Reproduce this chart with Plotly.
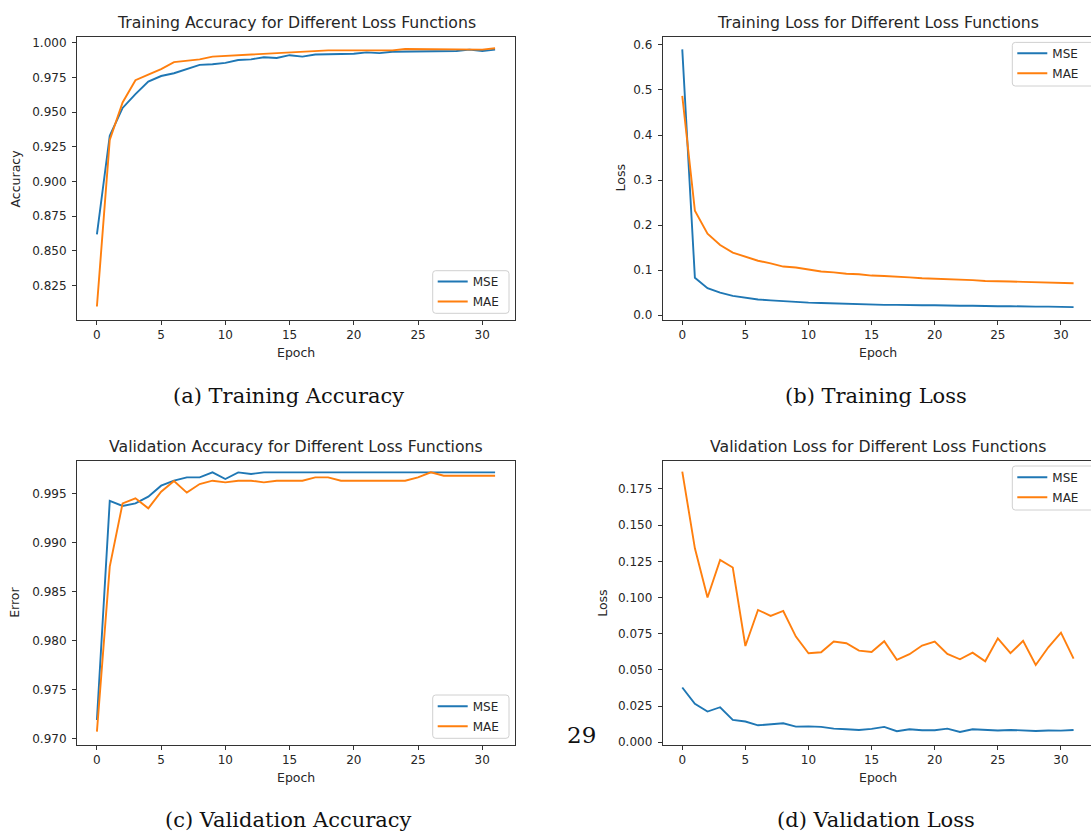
import plotly.graph_objects as go

epochs = list(range(32))

train_acc_mse = [0.862, 0.933, 0.953, 0.963, 0.972, 0.976, 0.978, 0.981, 0.984, 0.9845,
                 0.9855, 0.9875, 0.988, 0.9895, 0.989, 0.991, 0.990, 0.9915, 0.9915, 0.992,
                 0.992, 0.993, 0.9925, 0.9935, 0.9935, 0.9935, 0.9935, 0.994, 0.994, 0.995,
                 0.994, 0.995]
train_acc_mae = [0.810, 0.930, 0.957, 0.973, 0.977, 0.981, 0.986, 0.987, 0.988, 0.990,
                 0.9905, 0.991, 0.9915, 0.992, 0.993, 0.9935, 0.9935, 0.994, 0.9945, 0.9945,
                 0.9945, 0.995, 0.9945, 0.9945, 0.9955, 0.9955, 0.9955, 0.9955, 0.9955, 0.9955,
                 0.995, 0.996]

train_loss_mse = [0.590, 0.083, 0.060, 0.050, 0.043, 0.039, 0.035, 0.033, 0.031, 0.029,
                  0.028, 0.027, 0.026, 0.025, 0.025, 0.024, 0.023, 0.023, 0.022, 0.022,
                  0.022, 0.021, 0.021, 0.021, 0.020, 0.020, 0.020, 0.019, 0.019, 0.019,
                  0.019, 0.018]
train_loss_mae = [0.487, 0.232, 0.181, 0.156, 0.139, 0.130, 0.121, 0.115, 0.108, 0.106,
                  0.101, 0.097, 0.095, 0.092, 0.091, 0.088, 0.087, 0.086, 0.084, 0.082,
                  0.081, 0.081, 0.079, 0.078, 0.076, 0.076, 0.075, 0.074, 0.073, 0.072,
                  0.072, 0.071]

val_acc_mse = [0.97187, 0.99422, 0.99371, 0.99398, 0.99466, 0.99578, 0.99629, 0.99663, 0.99663, 0.99714,
               0.99646, 0.99714, 0.99697, 0.99714, 0.99714, 0.99714, 0.99714, 0.99714, 0.99714, 0.99714,
               0.99714, 0.99714, 0.99714, 0.99714, 0.99714, 0.99714, 0.99714, 0.99714, 0.99714, 0.99714,
               0.99714, 0.99714]
val_acc_mae = [0.97068, 0.98752, 0.99398, 0.99449, 0.99347, 0.99517, 0.99626, 0.99507, 0.99595, 0.99629,
               0.99612, 0.99629, 0.99629, 0.99612, 0.99629, 0.99629, 0.99629, 0.99663, 0.99663, 0.99629,
               0.99629, 0.99629, 0.99629, 0.99629, 0.99629, 0.99663, 0.99714, 0.99680, 0.99680, 0.99680,
               0.99680, 0.99680]

val_loss_mse = [0.0378, 0.0265, 0.0212, 0.0242, 0.0154, 0.0143, 0.0117, 0.0122, 0.0131, 0.0108,
                0.0110, 0.0106, 0.0094, 0.0090, 0.0085, 0.0092, 0.0106, 0.0076, 0.0090, 0.0083,
                0.0083, 0.0094, 0.0071, 0.0090, 0.0087, 0.0081, 0.0085, 0.0081, 0.0078, 0.0081,
                0.0080, 0.0085]
val_loss_mae = [0.1870, 0.1340, 0.1000, 0.1260, 0.1207, 0.0665, 0.0914, 0.0873, 0.0907, 0.0730,
                0.0615, 0.0622, 0.0696, 0.0684, 0.0633, 0.0624, 0.0698, 0.0569, 0.0608, 0.0668,
                0.0696, 0.0610, 0.0573, 0.0619, 0.0559, 0.0718, 0.0615, 0.0700, 0.0534, 0.0656,
                0.0757, 0.0578]

x_ticks = [0, 5, 10, 15, 20, 25, 30]
series_names = ["MSE", "MAE"]

BLUE = "#1f77b4"
ORANGE = "#ff7f0e"
TEXT = "#262626"
SANS = "DejaVu Sans"
SERIF = "DejaVu Serif"
W, H = 1091, 834


def rounded_box(x0, y0, x1, y1, r=3):
    """Rounded rectangle path in paper units from pixel corners (y down)."""
    px = lambda v: v / W
    py = lambda v: 1 - v / H
    return (
        f"M {px(x0 + r)},{py(y0)} L {px(x1 - r)},{py(y0)} "
        f"Q {px(x1)},{py(y0)} {px(x1)},{py(y0 + r)} "
        f"L {px(x1)},{py(y1 - r)} Q {px(x1)},{py(y1)} {px(x1 - r)},{py(y1)} "
        f"L {px(x0 + r)},{py(y1)} Q {px(x0)},{py(y1)} {px(x0)},{py(y1 - r)} "
        f"L {px(x0)},{py(y0 + r)} Q {px(x0)},{py(y0)} {px(x0 + r)},{py(y0)} Z"
    )


panels = [
    dict(xa="x", ya="y", legend="legend",
         xdom=[77 / W, 515 / W], ydom=[1 - 320 / H, 1 - 37 / H],
         xr=[-1.55, 32.55], yr=[0.8003, 1.0041], right=True,
         yt=[0.825, 0.850, 0.875, 0.900, 0.925, 0.950, 0.975, 1.000], fmt=".3f",
         data=(train_acc_mse, train_acc_mae),
         title="Training Accuracy for Different Loss Functions", ylab="Accuracy",
         ylab_x=15, leg=(432.7, 281, 270.7, 509, 313.3)),
    dict(xa="x2", ya="y2", legend="legend2",
         xdom=[662.7 / W, 1.0], ydom=[1 - 320 / H, 1 - 37 / H],
         xr=[-1.55, 32.38], yr=[-0.0106, 0.6175], right=False,
         yt=[0.0, 0.1, 0.2, 0.3, 0.4, 0.5, 0.6], fmt=".1f",
         data=(train_loss_mse, train_loss_mae),
         title="Training Loss for Different Loss Functions", ylab="Loss",
         ylab_x=620, leg=(1012.3, 52.7, 42.4, 1100, 86)),
    dict(xa="x3", ya="y3", legend="legend3",
         xdom=[77 / W, 515 / W], ydom=[1 - 745 / H, 1 - 460.7 / H],
         xr=[-1.55, 32.55], yr=[0.96932, 0.99833], right=True,
         yt=[0.970, 0.975, 0.980, 0.985, 0.990, 0.995], fmt=".3f",
         data=(val_acc_mse, val_acc_mae),
         title="Validation Accuracy for Different Loss Functions", ylab="Error",
         ylab_x=15, leg=(432.7, 705.7, 695, 509, 738.3)),
    dict(xa="x4", ya="y4", legend="legend4",
         xdom=[662.7 / W, 1.0], ydom=[1 - 745 / H, 1 - 460.7 / H],
         xr=[-1.55, 32.38], yr=[-0.0019, 0.1945], right=False,
         yt=[0.000, 0.025, 0.050, 0.075, 0.100, 0.125, 0.150, 0.175], fmt=".3f",
         data=(val_loss_mse, val_loss_mae),
         title="Validation Loss for Different Loss Functions", ylab="Loss",
         ylab_x=603, leg=(1012.3, 476.7, 466, 1100, 510)),
]

fig = go.Figure()
layout = dict(
    width=W, height=H,
    margin=dict(l=0, r=0, t=0, b=0, autoexpand=False),
    paper_bgcolor="white", plot_bgcolor="white",
    font=dict(family=SANS, size=12, color=TEXT),
    annotations=[], shapes=[],
)

for p in panels:
    for vals, name, col in zip(p["data"], series_names, [BLUE, ORANGE]):
        fig.add_trace(go.Scatter(
            x=epochs, y=vals, mode="lines", name=name,
            line=dict(color=col, width=1.9),
            xaxis=p["xa"], yaxis=p["ya"], legend=p["legend"],
            legendgroup=p["legend"] + name,
        ))
    xkey = "xaxis" + p["xa"][1:]
    ykey = "yaxis" + p["ya"][1:]
    layout[xkey] = dict(
        domain=p["xdom"], range=p["xr"], anchor=p["ya"],
        tickmode="array", tickvals=x_ticks, ticks="outside", ticklen=4,
        tickcolor="#333", showline=True, linecolor="#333", linewidth=1,
        mirror=True, showgrid=False, zeroline=False,
        tickfont=dict(size=12, color=TEXT, family=SANS),
    )
    layout[ykey] = dict(
        domain=p["ydom"], range=p["yr"], anchor=p["xa"],
        tickmode="array", tickvals=p["yt"], tickformat=p["fmt"],
        ticks="outside", ticklen=4, tickcolor="#333", ticklabelstandoff=3,
        showline=True, linecolor="#333", linewidth=1,
        mirror=p["right"], showgrid=False, zeroline=False,
        tickfont=dict(size=12, color=TEXT, family=SANS),
    )
    # legend entries (native) on top of a rounded frame drawn as a shape
    lx, first_y, bx_top, bx_right, bx_bot = p["leg"]
    layout[p["legend"]] = dict(
        x=lx / W, y=1 - (first_y - 14) / H, xanchor="left", yanchor="top",
        bgcolor="rgba(0,0,0,0)", borderwidth=0,
        font=dict(size=12, color=TEXT, family=SANS),
        itemwidth=30, tracegroupgap=1,
    )
    layout["shapes"].append(dict(
        type="path", xref="paper", yref="paper",
        path=rounded_box(lx, bx_top, bx_right, bx_bot),
        line=dict(color="#d0d0d0", width=1), fillcolor="rgba(255,255,255,0.8)",
        layer="above",
    ))
    xc = (p["xdom"][0] + p["xdom"][1]) / 2 if p["right"] else (662.7 + 1094) / 2 / W
    top_px = (1 - p["ydom"][1]) * H
    bot_px = (1 - p["ydom"][0]) * H
    mid_px = (top_px + bot_px) / 2
    layout["annotations"] += [
        dict(text=p["title"], x=xc, y=1 - (top_px - 14.5) / H, xref="paper", yref="paper",
             xanchor="center", yanchor="middle", showarrow=False,
             font=dict(size=15.7, family=SANS, color=TEXT)),
        dict(text="Epoch", x=xc, y=1 - (bot_px + 32.5) / H, xref="paper", yref="paper",
             xanchor="center", yanchor="middle", showarrow=False,
             font=dict(size=12.5, family=SANS, color=TEXT)),
        dict(text=p["ylab"], x=p["ylab_x"] / W, y=1 - mid_px / H, xref="paper", yref="paper",
             xanchor="center", yanchor="middle", showarrow=False, textangle=-90,
             font=dict(size=12.5, family=SANS, color=TEXT)),
    ]

# Sub-figure captions and page number
captions = [
    ("(a) Training Accuracy", 288.5, 396),
    ("(b) Training Loss", 876, 396),
    ("(c) Validation Accuracy", 288.5, 820),
    ("(d) Validation Loss", 876, 820),
]
for txt, cx, cy in captions:
    layout["annotations"].append(dict(
        text=txt, x=cx / W, y=1 - cy / H, xref="paper", yref="paper",
        xanchor="center", yanchor="middle", showarrow=False,
        font=dict(size=21, family=SERIF, color="#111")))
layout["annotations"].append(dict(
    text="29", x=581 / W, y=1 - 735 / H, xref="paper", yref="paper",
    xanchor="center", yanchor="middle", showarrow=False,
    font=dict(size=23, family=SERIF, color="#111")))

fig.update_layout(**layout)
fig.write_html("out.html")
